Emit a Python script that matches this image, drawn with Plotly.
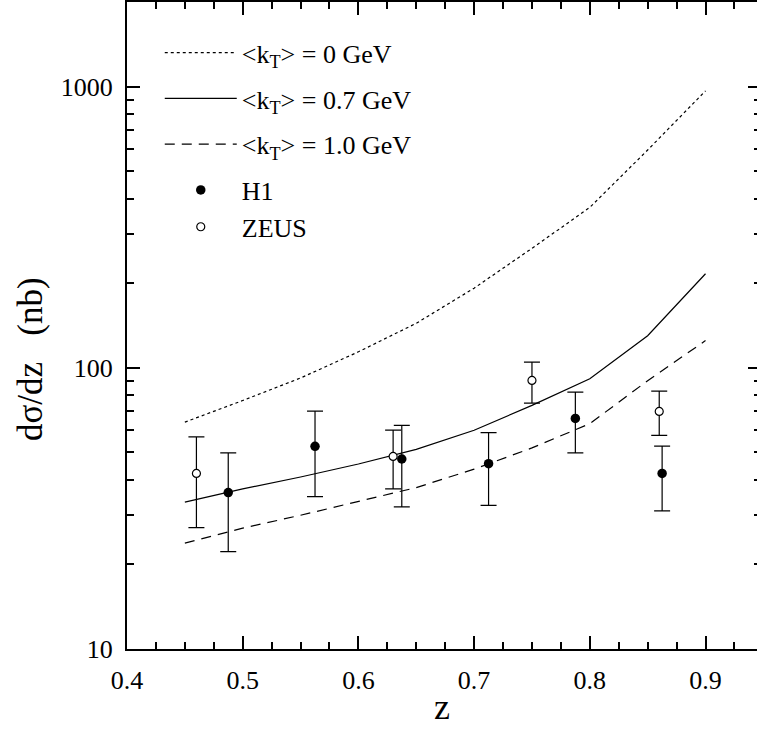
import plotly.graph_objects as go
import math

# ---------------- data ----------------
z_curve = [0.45, 0.50, 0.55, 0.60, 0.65, 0.70, 0.75, 0.80, 0.85, 0.90]
kt_0 = [64.1, 76.5, 92.0, 114.0, 144.0, 192.0, 266.0, 372.0, 595.0, 966.0]
kt_07 = [33.3, 37.1, 40.9, 45.5, 51.3, 60.0, 73.5, 91.4, 130.0, 216.0]
kt_10 = [23.8, 26.9, 29.9, 33.5, 37.5, 43.6, 51.9, 63.3, 90.0, 125.0]

h1_z = [0.4875, 0.5625, 0.6375, 0.7125, 0.7875, 0.8625]
h1_val = [36.0, 52.6, 47.4, 45.6, 66.1, 42.1]
h1_hi = [49.8, 70.2, 62.4, 58.8, 82.0, 52.7]
h1_lo = [22.2, 34.8, 32.0, 32.4, 49.8, 31.0]

zeus_z = [0.46, 0.63, 0.75, 0.86]
zeus_val = [42.1, 48.4, 90.2, 70.0]
zeus_hi = [56.8, 60.0, 104.8, 82.6]
zeus_lo = [27.0, 37.1, 74.9, 57.5]

x_ticks = [0.4, 0.5, 0.6, 0.7, 0.8, 0.9]
y_ticks = [10, 100, 1000]
y_minor = [20, 30, 40, 50, 60, 70, 80, 90, 200, 300, 400, 500, 600, 700, 800, 900, 2000]

FONT = "Liberation Serif, Times New Roman, Times, serif"

fig = go.Figure()

fig.add_trace(go.Scatter(
    x=z_curve, y=kt_0, mode="lines", yaxis="y2",
    name="&lt;k<sub>T</sub>&gt; = 0 GeV", legendgroup="a",
    line=dict(color="black", width=1.2, dash="3px,3px")))
fig.add_trace(go.Scatter(
    x=z_curve, y=kt_07, mode="lines",
    name="&lt;k<sub>T</sub>&gt; = 0.7 GeV", legendgroup="b",
    line=dict(color="black", width=1.2)))
fig.add_trace(go.Scatter(
    x=z_curve, y=kt_10, mode="lines",
    name="&lt;k<sub>T</sub>&gt; = 1.0 GeV", legendgroup="c",
    line=dict(color="black", width=1.2, dash="10px,7px")))

fig.add_trace(go.Scatter(
    x=h1_z, y=h1_val, mode="markers", name="H1", legendgroup="d",
    marker=dict(symbol="circle", size=9.5, color="black"),
    error_y=dict(type="data", symmetric=False,
                 array=[h - v for h, v in zip(h1_hi, h1_val)],
                 arrayminus=[v - l for v, l in zip(h1_val, h1_lo)],
                 color="black", thickness=1.2, width=8)))
fig.add_trace(go.Scatter(
    x=zeus_z, y=zeus_val, mode="markers", name="ZEUS", legendgroup="d",
    marker=dict(symbol="circle", size=8, color="white",
                line=dict(color="black", width=1.2)),
    error_y=dict(type="data", symmetric=False,
                 array=[h - v for h, v in zip(zeus_hi, zeus_val)],
                 arrayminus=[v - l for v, l in zip(zeus_val, zeus_lo)],
                 color="black", thickness=1.2, width=8)))

yrange = [1, math.log10(2000)]

fig.update_layout(
    width=757, height=747,
    margin=dict(l=127, r=0, t=2, b=98),
    paper_bgcolor="white", plot_bgcolor="white",
    font=dict(family=FONT, size=26, color="black"),
    showlegend=True,
    legend=dict(x=0.052, y=0.958, xanchor="left", yanchor="top",
                bgcolor="rgba(0,0,0,0)", borderwidth=0,
                font=dict(family=FONT, size=26, color="black"),
                itemwidth=72, tracegroupgap=9, traceorder="grouped"),
    xaxis=dict(range=[0.4, 0.9445], tickvals=x_ticks,
               ticktext=[f"{v:.1f}" for v in x_ticks],
               ticks="inside", ticklen=13, tickwidth=1.5, tickcolor="black",
               minor=dict(dtick=0.025, tick0=0.4, ticks="inside", ticklen=7,
                          tickwidth=1.5, tickcolor="black", showgrid=False),
               showline=True, linewidth=2, linecolor="black", mirror="ticks",
               showgrid=False, zeroline=False, ticklabelstandoff=7,
               tickfont=dict(family=FONT, size=26),
               title=dict(text="z", font=dict(family=FONT, size=36), standoff=0)),
    yaxis=dict(type="log", range=yrange, tickvals=y_ticks,
               ticktext=[str(v) for v in y_ticks],
               ticks="inside", ticklen=13, tickwidth=1.5, tickcolor="black",
               minor=dict(tickvals=y_minor, ticks="inside", ticklen=7,
                          tickwidth=1.5, tickcolor="black", showgrid=False),
               showline=True, linewidth=2, linecolor="black", mirror=False,
               showgrid=False, zeroline=False, ticklabelstandoff=7,
               tickfont=dict(family=FONT, size=26)),
    yaxis2=dict(type="log", range=yrange, overlaying="y", side="right",
                tickvals=y_ticks, showticklabels=False,
                ticks="inside", ticklen=9, tickwidth=1.5, tickcolor="black",
                minor=dict(tickvals=y_minor, ticks="inside", ticklen=3,
                           tickwidth=1.5, tickcolor="black", showgrid=False),
                showline=False, showgrid=False, zeroline=False),
    annotations=[dict(text="dσ/dz&nbsp;&nbsp;&nbsp;(nb)", textangle=-90,
                      xref="paper", yref="paper", x=-0.153, y=0.4475,
                      xanchor="center", yanchor="middle", showarrow=False,
                      font=dict(family=FONT, size=35, color="black"))],
)

fig.write_html("out.html")
